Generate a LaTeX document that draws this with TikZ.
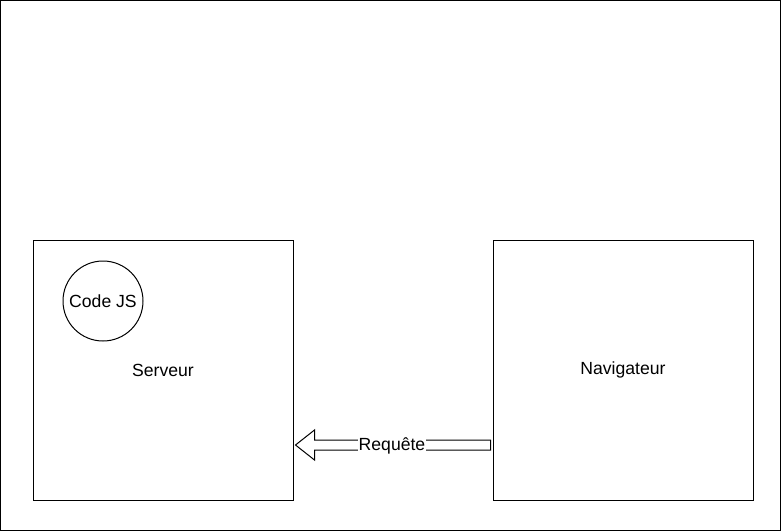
\documentclass[tikz,border=0pt]{standalone}
\usepackage{fontspec}
\setmainfont{Liberation Sans}
\usetikzlibrary{calc}
\begin{document}
\begin{tikzpicture}[x=1pt,y=-1pt,
  box/.style={draw,line width=1pt,minimum width=260pt,minimum height=260pt,inner sep=0pt,font=\fontsize{17.6}{20}\selectfont},
  jscircle/.style={draw,circle,line width=1pt,minimum size=80pt,inner sep=0pt,font=\fontsize{17.6}{20}\selectfont},
  lbl/.style={fill=white,inner sep=1pt,font=\fontsize{17.6}{20}\selectfont}]
\useasboundingbox (0,0) rectangle (781,531);
\draw[line width=1.2pt] (0.6,0.6) rectangle (780.4,530.4);
\node[box] (srv) at (163,370) {Serveur};
\node[box] (nav) at (623,370) {Navigateur};
\node[jscircle] (js) at (103,301) {Code JS};
\coordinate (tail) at ($(nav.west)+(-2,75)$);
\coordinate (tip) at ($(srv.east)+(2,75)$);
\draw[line width=1pt,line join=miter] (tip) -- ($(tip)+(19,-15)$) -- ($(tip)+(19,-5)$) -- ($(tail)+(0,-5)$) -- ($(tail)+(0,5)$) -- ($(tip)+(19,5)$) -- ($(tip)+(19,15)$) -- cycle;
\node[lbl] (req) at (392,446) {Requête};
\end{tikzpicture}
\end{document}
